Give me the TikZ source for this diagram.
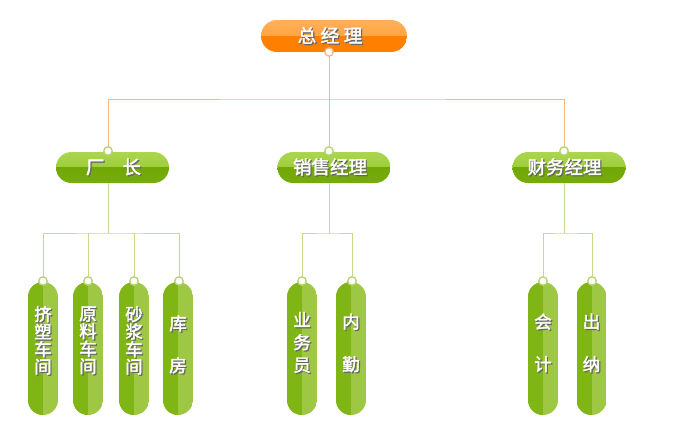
\documentclass[tikz,border=0pt]{standalone}
\usepackage{fontspec}
\newfontfamily\cjk{Noto Sans CJK SC}[FakeBold=2]
\definecolor{oTop}{HTML}{FFB05A}
\definecolor{oMid}{HTML}{FF9A2C}
\definecolor{oBot}{HTML}{FF7F00}
\definecolor{gTop}{HTML}{ABD650}
\definecolor{gMid}{HTML}{91C425}
\definecolor{gBot}{HTML}{72A806}
\definecolor{pL}{HTML}{7FB514}
\definecolor{pR}{HTML}{9EC743}
\definecolor{oLine}{HTML}{FFB877}
\definecolor{gLine}{HTML}{C6DA8E}
\definecolor{gRing}{HTML}{B5D370}
\newcommand\shd[1]{\makebox[0pt][l]{\hspace*{1.2pt}\raisebox{-1.2pt}{\color{black!60}#1}}{\color{white}#1}}
\tikzset{
  topbox/.style={rectangle, rounded corners=16pt, inner sep=0pt, minimum width=146pt, minimum height=32pt,
    path picture={
      \shade[sharp corners, top color=oTop, bottom color=oMid] (path picture bounding box.north west) rectangle (path picture bounding box.east);
      \fill[sharp corners, oBot] (path picture bounding box.west) rectangle (path picture bounding box.south east);
    }},
  midbox/.style={rectangle, rounded corners=15.5pt, inner sep=0pt, minimum width=113pt, minimum height=31pt,
    path picture={
      \shade[sharp corners, top color=gTop, bottom color=gMid] (path picture bounding box.north west) rectangle (path picture bounding box.east);
      \shade[sharp corners, top color=gBot, bottom color=gBot!85!gMid] (path picture bounding box.west) rectangle (path picture bounding box.south east);
    }},
  pill/.style={rectangle, rounded corners=15pt, inner sep=0pt, minimum width=30pt, minimum height=133pt,
    path picture={
      \fill[sharp corners, pR] (path picture bounding box.north west) rectangle (path picture bounding box.south east);
      \fill[sharp corners, pL] (path picture bounding box.north west) rectangle (path picture bounding box.south);
    }},
  ring/.style={circle, draw=#1, fill=white, line width=1.3pt, minimum size=8.5pt, inner sep=0pt},
  hlbl/.style={text=white, font=\cjk\fontsize{18.5}{20}\selectfont, inner sep=0pt},
  vlbl/.style={text=white, font=\cjk\fontsize{17.5}{17.5}\selectfont, align=center, inner sep=0pt},
  oline/.style={draw=oLine, line width=1pt},
  gline/.style={draw=gLine, line width=1pt},
}
\begin{document}
\begin{tikzpicture}[x=1pt, y=-1pt]
\useasboundingbox (0,0) rectangle (679,440);
% top
\node[topbox] (gm) at (334,36) {};
\node[hlbl] (tgm) at (330,36) {\shd{总\hspace{4.5pt}经\hspace{4.5pt}理}};
% second level
\node[midbox] (fac) at (112.5,167.5) {};
\node[hlbl] (tfac) at (113.5,167.5) {\shd{厂\hspace{18pt}长}};
\node[midbox] (sal) at (334,167.5) {};
\node[hlbl] (tsal) at (330,167.5) {\shd{销售经理}};
\node[midbox] (fin) at (569,167.5) {};
\node[hlbl] (tfin) at (564.5,167.5) {\shd{财务经理}};
% pills
\node[pill] (p1) at (43,348.5) {};
\node[pill] (p2) at (88,348.5) {};
\node[pill] (p3) at (134,348.5) {};
\node[pill] (p4) at (178,348.5) {};
\node[pill] (p5) at (302,348.5) {};
\node[pill] (p6) at (351,348.5) {};
\node[pill] (p7) at (543,348.5) {};
\node[pill] (p8) at (591.5,348.5) {};
\node[vlbl] (t1) at (43,341) {\shd{挤}\\\shd{塑}\\\shd{车}\\\shd{间}};
\node[vlbl] (t2) at (88,341) {\shd{原}\\\shd{料}\\\shd{车}\\\shd{间}};
\node[vlbl] (t3) at (134,341) {\shd{砂}\\\shd{浆}\\\shd{车}\\\shd{间}};
\node[vlbl] (t4) at (178,345) {\shd{库}\\[24.5pt]\shd{房}};
\node[vlbl] (t5) at (302,343) {\shd{业}\\[5pt]\shd{务}\\[5pt]\shd{员}};
\node[vlbl] (t6) at (351,343.5) {\shd{内}\\[25pt]\shd{勤}};
\node[vlbl] (t7) at (543,343.5) {\shd{会}\\[25pt]\shd{计}};
\node[vlbl] (t8) at (591.5,343.5) {\shd{出}\\[25pt]\shd{纳}};
% rings
\node[ring=oLine] (r0) at (329,52) {};
\node[ring=gRing] (rA) at (108,151) {};
\node[ring=gRing] (rB) at (329,151) {};
\node[ring=gRing] (rC) at (564,151) {};
\node[ring=gRing] (q1) at (43,281) {};
\node[ring=gRing] (q2) at (88,281) {};
\node[ring=gRing] (q3) at (134,281) {};
\node[ring=gRing] (q4) at (179,281) {};
\node[ring=gRing] (q5) at (302,281) {};
\node[ring=gRing] (q6) at (352,281) {};
\node[ring=gRing] (q7) at (543,281) {};
\node[ring=gRing] (q8) at (592,281) {};
% bus coordinates
\coordinate (bus0) at (329,99);
\coordinate (busA) at (108,233);
\coordinate (busB) at (329,233);
\coordinate (busC) at (564,233);
% connectors top
\draw[oline] (r0) -- (bus0);
\draw[oline] (rA) |- (bus0) -| (rC);
\draw[oline] (bus0) -- (rB);
% connectors factory
\draw[gline] (fac.south -| rA) -- (busA);
\draw[gline] (q1) |- (busA) -| (q4);
\draw[gline] (q2) -- (q2 |- busA);
\draw[gline] (q3) -- (q3 |- busA);
% sales
\draw[gline] (sal.south -| rB) -- (busB);
\draw[gline] (q5) |- (busB) -| (q6);
% finance
\draw[gline] (fin.south -| rC) -- (busC);
\draw[gline] (q7) |- (busC) -| (q8);
\end{tikzpicture}
\end{document}
